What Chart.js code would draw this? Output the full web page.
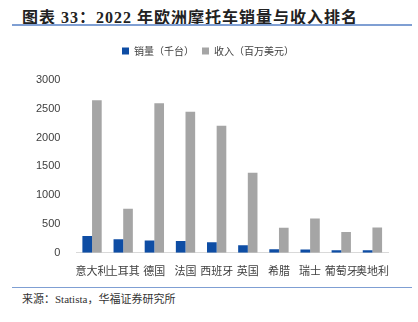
<!DOCTYPE html>
<html>
<head>
<meta charset="utf-8">
<script src="https://cdn.jsdelivr.net/npm/chart.js@4"></script>
<style>
  body { margin: 0; background: #fff; width: 418px; height: 322px; overflow: hidden; position: relative; }
  #title { position: absolute; left: 22px; top: 4px; font: bold 16px "Liberation Serif", "Noto Sans CJK SC", serif; letter-spacing: 1px; color: #222; white-space: nowrap; }
  #line1 { position: absolute; left: 12px; top: 24px; width: 400px; height: 2px; background: #7f9fd3; }
  #wrap { position: absolute; left: 0; top: 38px; width: 418px; height: 242px; }
  #line2 { position: absolute; left: 12px; top: 287px; width: 400px; height: 1px; background: #7f9fd3; }
  #source { position: absolute; left: 22px; top: 290px; font: 11px "Liberation Serif", "Noto Sans CJK SC", serif; color: #333; white-space: nowrap; }
</style>
</head>
<body>
<div id="title">图表 33：2022 年欧洲摩托车销量与收入排名</div>
<div id="line1"></div>
<div id="wrap"><canvas id="barChart"></canvas></div>
<div id="line2"></div>
<div id="source">来源：Statista，华福证券研究所</div>
<script>
const countries = ["意大利", "土耳其", "德国", "法国", "西班牙", "英国", "希腊", "瑞士", "葡萄牙", "奥地利"];
const sales = [290, 235, 215, 205, 185, 130, 63, 58, 45, 45];
const revenue = [2650, 765, 2595, 2450, 2205, 1390, 435, 595, 360, 440];
const yTicks = [0, 500, 1000, 1500, 2000, 2500, 3000];

// push the plot area down below the legend
const legendGap = {
  id: "legendGap",
  beforeInit(chart) {
    const fit = chart.legend.fit;
    chart.legend.fit = function () {
      fit.bind(chart.legend)();
      this.height += 14;
    };
  },
};

document.addEventListener("DOMContentLoaded", function () {
  const ctx = document.getElementById("barChart").getContext("2d");

  new Chart(ctx, {
    type: "bar",
    data: {
      labels: countries,
      datasets: [
        {
          label: "销量（千台）",
          data: sales,
          backgroundColor: "#0e4da4",
        },
        {
          label: "收入（百万美元）",
          data: revenue,
          backgroundColor: "#a5a5a5",
        },
      ],
    },
    plugins: [legendGap],
    options: {
      responsive: true,
      maintainAspectRatio: false,
      animation: false,
      layout: { padding: { left: 28, right: 30, top: 0, bottom: 0 } },
      datasets: {
        bar: { categoryPercentage: 0.62, barPercentage: 1.0 },
      },
      plugins: {
        legend: {
          display: true,
          position: "top",
          labels: {
            boxWidth: 7,
            boxHeight: 7,
            padding: 8,
            color: "#404040",
            font: { size: 10, family: "'Noto Sans CJK SC', sans-serif" },
          },
        },
        tooltip: { enabled: false },
      },
      scales: {
        x: {
          grid: { display: false },
          border: { color: "#d9d9d9", width: 1 },
          ticks: {
            color: "#404040",
            maxRotation: 0,
            autoSkip: false,
            font: { size: 11, family: "'Noto Sans CJK SC', serif" },
          },
        },
        y: {
          min: 0,
          max: 3000,
          afterBuildTicks: function (axis) {
            axis.ticks = yTicks.map(function (v) { return { value: v }; });
          },
          grid: { display: false },
          border: { display: false },
          ticks: {
            color: "#404040",
            padding: 8,
            callback: function (v) { return String(v); },
            font: { size: 11, family: "'Liberation Sans', Arial, sans-serif" },
          },
        },
      },
    },
  });
});
</script>
</body>
</html>
